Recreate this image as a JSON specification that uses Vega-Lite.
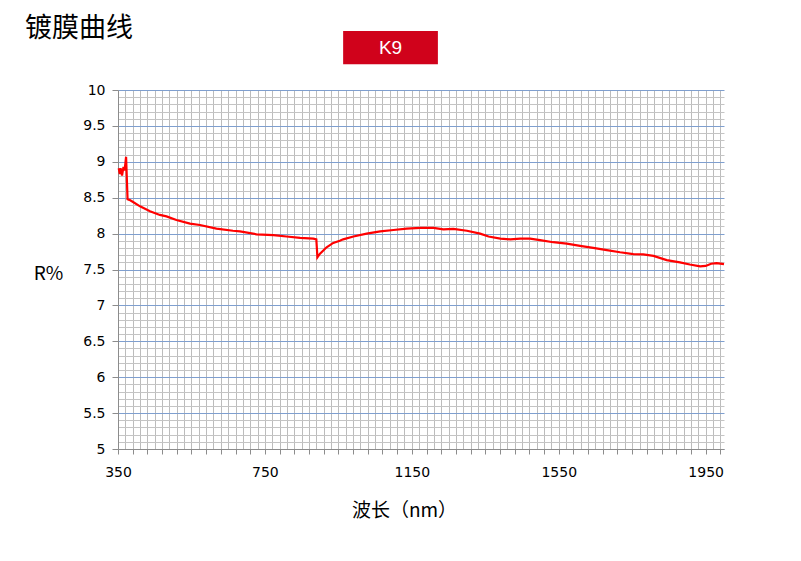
{
  "$schema": "https://vega.github.io/schema/vega-lite/v6.json",
  "autosize": "none",
  "width": 606,
  "height": 359,
  "padding": {"left": 118, "top": 90, "right": 77, "bottom": 112},
  "background": "white",
  "title": {
    "text": "镀膜曲线",
    "anchor": "start",
    "frame": "group",
    "dx": -93,
    "dy": 4,
    "offset": -8,
    "font": "Noto Sans CJK SC",
    "fontSize": 27,
    "fontWeight": "normal",
    "color": "#000000"
  },
  "layer": [
    {
      "data": {
        "values": [
          {"wavelength": 352, "R": 8.91},
          {"wavelength": 355, "R": 8.83},
          {"wavelength": 357, "R": 8.91},
          {"wavelength": 361, "R": 8.81},
          {"wavelength": 365, "R": 8.93},
          {"wavelength": 368, "R": 8.88},
          {"wavelength": 372, "R": 9.07},
          {"wavelength": 376, "R": 8.48},
          {"wavelength": 381, "R": 8.47},
          {"wavelength": 391, "R": 8.44},
          {"wavelength": 410, "R": 8.38},
          {"wavelength": 437, "R": 8.31},
          {"wavelength": 464, "R": 8.26},
          {"wavelength": 482, "R": 8.24},
          {"wavelength": 509, "R": 8.19},
          {"wavelength": 546, "R": 8.14},
          {"wavelength": 573, "R": 8.12},
          {"wavelength": 618, "R": 8.07},
          {"wavelength": 663, "R": 8.04},
          {"wavelength": 682, "R": 8.03},
          {"wavelength": 727, "R": 7.99},
          {"wavelength": 773, "R": 7.98},
          {"wavelength": 809, "R": 7.96},
          {"wavelength": 846, "R": 7.94},
          {"wavelength": 882, "R": 7.93},
          {"wavelength": 890, "R": 7.92},
          {"wavelength": 893, "R": 7.67},
          {"wavelength": 900, "R": 7.72},
          {"wavelength": 918, "R": 7.81},
          {"wavelength": 936, "R": 7.87},
          {"wavelength": 954, "R": 7.9},
          {"wavelength": 963, "R": 7.92},
          {"wavelength": 991, "R": 7.96},
          {"wavelength": 1027, "R": 8.0},
          {"wavelength": 1064, "R": 8.03},
          {"wavelength": 1100, "R": 8.05},
          {"wavelength": 1136, "R": 8.07},
          {"wavelength": 1173, "R": 8.08},
          {"wavelength": 1209, "R": 8.08},
          {"wavelength": 1236, "R": 8.06},
          {"wavelength": 1263, "R": 8.065},
          {"wavelength": 1300, "R": 8.04},
          {"wavelength": 1336, "R": 8.0},
          {"wavelength": 1359, "R": 7.96},
          {"wavelength": 1391, "R": 7.93},
          {"wavelength": 1418, "R": 7.92},
          {"wavelength": 1445, "R": 7.93},
          {"wavelength": 1472, "R": 7.93},
          {"wavelength": 1499, "R": 7.91},
          {"wavelength": 1535, "R": 7.88},
          {"wavelength": 1572, "R": 7.86},
          {"wavelength": 1608, "R": 7.83},
          {"wavelength": 1644, "R": 7.8},
          {"wavelength": 1681, "R": 7.77},
          {"wavelength": 1717, "R": 7.74},
          {"wavelength": 1753, "R": 7.715},
          {"wavelength": 1780, "R": 7.71},
          {"wavelength": 1808, "R": 7.69},
          {"wavelength": 1844, "R": 7.63},
          {"wavelength": 1880, "R": 7.6},
          {"wavelength": 1907, "R": 7.57},
          {"wavelength": 1935, "R": 7.545},
          {"wavelength": 1950, "R": 7.55},
          {"wavelength": 1965, "R": 7.58},
          {"wavelength": 1980, "R": 7.59},
          {"wavelength": 2000, "R": 7.575}
        ]
      },
      "mark": {"type": "line", "color": "#ff0000", "strokeWidth": 2.2, "interpolate": "linear"},
      "encoding": {
        "x": {
          "field": "wavelength",
          "type": "quantitative",
          "title": "波长（nm）",
          "scale": {"domain": [350, 2000], "nice": false, "zero": false},
          "axis": {
            "titleFont": "Noto Sans CJK SC",
            "titleFontSize": 19,
            "titleFontWeight": "normal",
            "titleColor": "#000000",
            "titleX": 286,
            "titleY": 61,
            "titleBaseline": "middle",
            "titleAlign": "center",
            "tickCount": 200,
            "values": [350,370,390,410,430,450,470,490,510,530,550,570,590,610,630,650,670,690,710,730,750,770,790,810,830,850,870,890,910,930,950,970,990,1010,1030,1050,1070,1090,1110,1130,1150,1170,1190,1210,1230,1250,1270,1290,1310,1330,1350,1370,1390,1410,1430,1450,1470,1490,1510,1530,1550,1570,1590,1610,1630,1650,1670,1690,1710,1730,1750,1770,1790,1810,1830,1850,1870,1890,1910,1930,1950,1970,1990],
            "labelExpr": "(datum.value - 350) % 400 == 0 ? datum.label : ''",
            "labelOverlap": false,
            "labelFlush": false,
            "labelBound": false,
            "labelFont": "DejaVu Sans",
            "labelFontSize": 14,
            "labelColor": "#000000",
            "labelPadding": 11,
            "format": "d",
            "grid": true,
            "gridColor": "#bcbcbc",
            "gridWidth": 1,
            "tickSize": 5,
            "tickColor": "#8c8c8c",
            "tickOpacity": {"condition": {"test": "(datum.value - 350) % 40 == 0", "value": 1}, "value": 0},
            "domainColor": "#8c8c8c"
          }
        },
        "y": {
          "field": "R",
          "type": "quantitative",
          "title": "R%",
          "scale": {"domain": [5, 10], "nice": false, "zero": false},
          "axis": {
            "titleAngle": 0,
            "titleFont": "Noto Sans CJK SC",
            "titleFontSize": 19,
            "titleFontWeight": "normal",
            "titleColor": "#000000",
            "titleX": -70,
            "titleY": 183,
            "titleAlign": "center",
            "titleBaseline": "middle",
            "tickCount": 200,
            "values": [5,5.1,5.2,5.3,5.4,5.5,5.6,5.7,5.8,5.9,6,6.1,6.2,6.3,6.4,6.5,6.6,6.7,6.8,6.9,7,7.1,7.2,7.3,7.4,7.5,7.6,7.7,7.8,7.9,8,8.1,8.2,8.3,8.4,8.5,8.6,8.7,8.8,8.9,9,9.1,9.2,9.3,9.4,9.5,9.6,9.7,9.8,9.9,10],
            "labelExpr": "abs(datum.value * 2 - round(datum.value * 2)) < 0.01 ? format(datum.value, '~g') : ''",
            "labelOverlap": false,
            "labelFlush": false,
            "labelBound": false,
            "labelFont": "DejaVu Sans",
            "labelFontSize": 14,
            "labelColor": "#000000",
            "labelPadding": 7,
            "grid": true,
            "gridColor": {"condition": {"test": "abs(datum.value * 2 - round(datum.value * 2)) < 0.01", "value": "#7f9fcf"}, "value": "#c4c4c4"},
            "gridWidth": 1,
            "tickSize": 6,
            "tickColor": "#8c8c8c",
            "tickOpacity": {"condition": {"test": "abs(datum.value * 2 - round(datum.value * 2)) < 0.01", "value": 1}, "value": 0},
            "domainColor": "#8c8c8c"
          }
        }
      }
    },
    {
      "data": {"values": [{"x1": 963, "x2": 1221, "y1": 10.36, "y2": 10.82}]},
      "mark": {"type": "rect", "color": "#d0021b", "clip": false},
      "encoding": {
        "x": {"field": "x1", "type": "quantitative", "title": "波长（nm）", "scale": {"domain": [350, 2000], "nice": false, "zero": false}},
        "x2": {"field": "x2"},
        "y": {"field": "y1", "type": "quantitative", "title": "R%", "scale": {"domain": [5, 10], "nice": false, "zero": false}},
        "y2": {"field": "y2"}
      }
    },
    {
      "data": {"values": [{"x": 1092, "y": 10.59, "label": "K9"}]},
      "mark": {"type": "text", "color": "#ffffff", "font": "Liberation Sans", "fontSize": 19, "align": "center", "baseline": "middle", "clip": false},
      "encoding": {
        "x": {"field": "x", "type": "quantitative", "title": "波长（nm）", "scale": {"domain": [350, 2000], "nice": false, "zero": false}},
        "y": {"field": "y", "type": "quantitative", "title": "R%", "scale": {"domain": [5, 10], "nice": false, "zero": false}},
        "text": {"field": "label"}
      }
    }
  ],
  "config": {
    "view": {"stroke": null}
  }
}
